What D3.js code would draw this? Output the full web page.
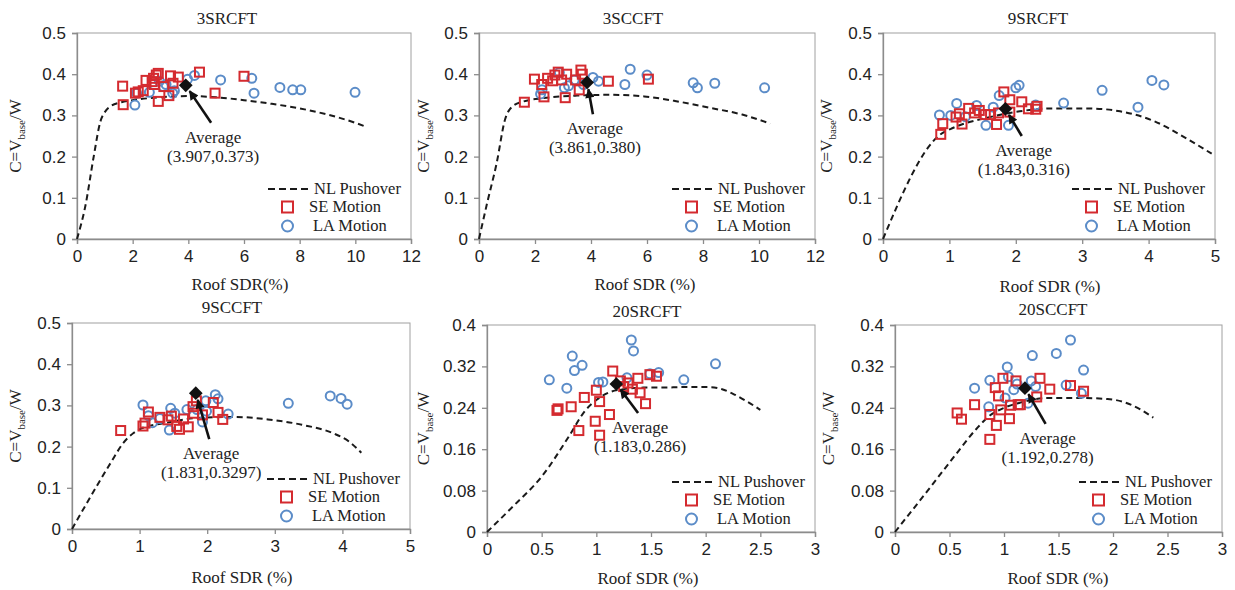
<!DOCTYPE html>
<html>
<head>
<meta charset="utf-8">
<script src="https://cdn.jsdelivr.net/npm/d3@7"></script>
<style>
  body { margin: 0; background: #fff; }
  svg text { font-family: "Liberation Serif", "Times New Roman", serif; fill: #222; }
  .tick text { font-family: "Liberation Sans", Arial, sans-serif; font-size: 17px; fill: #222; }
</style>
</head>
<body>
<svg id="fig" width="1235" height="590"></svg>
<script>
// ---- panel names and axis labels ----
const titles = ["3SRCFT", "3SCCFT", "9SRCFT", "9SCCFT", "20SRCFT", "20SCCFT"];
const xTitles = ["Roof SDR(%)", "Roof SDR (%)", "Roof SDR (%)", "Roof SDR (%)", "Roof SDR (%)", "Roof SDR (%)"];
const legendLabels = ["NL Pushover", "SE Motion", "LA Motion"];

// ---- tick values ----
const xTicks12 = [0, 2, 4, 6, 8, 10, 12];
const xTicks5 = [0, 1, 2, 3, 4, 5];
const xTicks3 = [0, 0.5, 1, 1.5, 2, 2.5, 3];
const yTicks05 = [0, 0.1, 0.2, 0.3, 0.4, 0.5];
const yTicks04 = [0, 0.08, 0.16, 0.24, 0.32, 0.4];

// ---- average response, as printed: [roof SDR %, C] ----
const averages = [["3.907", "0.373"], ["3.861", "0.380"], ["1.843", "0.316"], ["1.831", "0.3297"], ["1.183", "0.286"], ["1.192", "0.278"]];

// ---- nonlinear pushover curves [roof SDR %, C] ----
const push3SRCFT = [[0,0],[0.3,0.08],[0.6,0.2],[0.84,0.285],[1.0,0.308],[1.2,0.322],[1.6,0.332],[2,0.337],[3,0.344],[4,0.347],[5,0.344],[6,0.337],[7,0.328],[8,0.317],[9,0.302],[10,0.282],[10.4,0.272]];
const push3SCCFT = [[0,0],[0.3,0.09],[0.63,0.184],[0.93,0.29],[1.2,0.322],[1.6,0.334],[2.3,0.342],[3.5,0.348],[4.7,0.35],[5.9,0.346],[7,0.335],[8.2,0.319],[9.4,0.302],[10.4,0.28]];
const push9SRCFT = [[0,0],[0.85,0.252],[1.06,0.27],[1.56,0.294],[2.06,0.31],[2.56,0.317],[3.07,0.317],[3.57,0.31],[4.07,0.287],[4.57,0.244],[4.95,0.207]];
const push9SCCFT = [[0,0],[0.22,0.063],[0.57,0.16],[0.76,0.209],[0.91,0.233],[1.0,0.242],[1.4,0.258],[1.9,0.27],[2.4,0.272],[2.9,0.266],[3.4,0.253],[3.87,0.232],[4.1,0.212],[4.28,0.185]];
const push20SRCFT = [[0,0],[0.25,0.052],[0.5,0.107],[0.75,0.185],[0.9,0.235],[1.0,0.255],[1.12,0.27],[1.25,0.276],[1.43,0.279],[1.6,0.279],[1.8,0.28],[2.04,0.28],[2.15,0.276],[2.25,0.267],[2.38,0.252],[2.5,0.236]];
const push20SCCFT = [[0,0],[0.3,0.08],[0.54,0.145],[0.75,0.2],[0.87,0.225],[1.0,0.24],[1.15,0.25],[1.4,0.259],[1.7,0.259],[1.95,0.257],[2.1,0.251],[2.25,0.237],[2.37,0.221]];

// ---- SE ground motions [roof SDR %, C] ----
const se3SRCFT = [[1.64,0.371],[1.66,0.326],[2.10,0.354],[2.20,0.357],[2.38,0.360],[2.48,0.385],[2.70,0.382],[2.75,0.390],[2.85,0.398],[2.92,0.402],[2.78,0.375],[2.92,0.334],[3.12,0.370],[3.36,0.396],[3.30,0.348],[3.45,0.378],[3.64,0.393],[4.40,0.405],[4.96,0.354],[6.0,0.395]];
const se3SCCFT = [[1.62,0.332],[1.98,0.388],[2.24,0.375],[2.32,0.345],[2.45,0.390],[2.63,0.384],[2.71,0.398],[2.83,0.405],[2.95,0.386],[3.08,0.343],[3.13,0.400],[3.45,0.386],[3.58,0.362],[3.64,0.410],[3.69,0.400],[4.62,0.383],[6.05,0.388]];
const se9SRCFT = [[0.87,0.254],[0.90,0.280],[1.10,0.296],[1.15,0.304],[1.19,0.279],[1.29,0.317],[1.38,0.306],[1.45,0.312],[1.54,0.302],[1.62,0.302],[1.71,0.278],[1.74,0.306],[1.82,0.357],[1.91,0.338],[1.91,0.308],[2.09,0.333],[2.19,0.316],[2.30,0.315],[2.32,0.322]];
const se9SCCFT = [[0.72,0.239],[1.05,0.250],[1.08,0.257],[1.13,0.284],[1.30,0.271],[1.42,0.265],[1.47,0.274],[1.55,0.249],[1.59,0.242],[1.65,0.267],[1.72,0.248],[1.79,0.297],[1.84,0.311],[1.80,0.281],[1.93,0.277],[2.09,0.307],[2.16,0.283],[2.23,0.266]];
const se20SRCFT = [[0.64,0.235],[0.65,0.238],[0.77,0.242],[0.84,0.196],[0.89,0.260],[0.99,0.214],[1.00,0.274],[1.03,0.252],[1.03,0.187],[1.12,0.227],[1.15,0.311],[1.22,0.292],[1.25,0.281],[1.29,0.288],[1.33,0.276],[1.38,0.297],[1.40,0.269],[1.45,0.248],[1.49,0.304],[1.55,0.301]];
const se20SCCFT = [[0.57,0.230],[0.61,0.218],[0.73,0.246],[0.87,0.179],[0.87,0.227],[0.92,0.279],[0.93,0.206],[0.95,0.263],[0.97,0.236],[0.99,0.297],[1.05,0.219],[1.06,0.245],[1.11,0.292],[1.13,0.246],[1.15,0.246],[1.30,0.261],[1.33,0.297],[1.42,0.276],[1.61,0.283],[1.73,0.272]];

// ---- LA ground motions [roof SDR %, C] ----
const la3SRCFT = [[2.08,0.325],[2.14,0.354],[2.60,0.356],[2.96,0.383],[3.10,0.370],[3.20,0.375],[3.44,0.354],[3.50,0.360],[3.97,0.388],[4.22,0.397],[5.16,0.386],[6.28,0.390],[6.36,0.354],[7.29,0.368],[7.75,0.362],[8.04,0.362],[9.99,0.356]];
const la3SCCFT = [[2.20,0.352],[2.25,0.362],[2.87,0.404],[3.05,0.367],[3.20,0.372],[3.40,0.386],[3.73,0.375],[4.07,0.392],[4.27,0.383],[5.21,0.375],[5.40,0.412],[6.00,0.398],[7.65,0.379],[7.80,0.367],[8.42,0.378],[10.2,0.367]];
const la9SRCFT = [[0.85,0.301],[1.02,0.300],[1.11,0.329],[1.24,0.297],[1.41,0.324],[1.55,0.276],[1.66,0.320],[1.75,0.348],[1.89,0.276],[2.00,0.367],[2.05,0.373],[2.30,0.325],[2.72,0.330],[3.30,0.361],[3.84,0.320],[4.05,0.385],[4.23,0.374]];
const la9SCCFT = [[1.05,0.301],[1.13,0.275],[1.19,0.258],[1.30,0.268],[1.44,0.240],[1.46,0.293],[1.52,0.281],[1.70,0.290],[1.85,0.290],[1.93,0.260],[1.98,0.311],[1.99,0.286],[2.12,0.326],[2.16,0.316],[2.31,0.279],[3.20,0.305],[3.82,0.323],[3.98,0.317],[4.07,0.303]];
const la20SRCFT = [[0.57,0.294],[0.73,0.278],[0.78,0.340],[0.80,0.312],[0.87,0.322],[1.02,0.289],[1.06,0.290],[1.28,0.298],[1.32,0.371],[1.34,0.350],[1.49,0.306],[1.57,0.308],[1.80,0.294],[2.09,0.325]];
const la20SCCFT = [[0.73,0.278],[0.86,0.242],[0.87,0.293],[1.01,0.259],[1.03,0.319],[1.04,0.300],[1.09,0.275],[1.12,0.286],[1.22,0.249],[1.25,0.292],[1.26,0.341],[1.29,0.281],[1.48,0.345],[1.57,0.284],[1.61,0.371],[1.73,0.313],[1.71,0.268]];

// ---- panel layout: plot box [left, right, top, bottom] and label placement ----
const layout = [
  { box: [77, 411, 33, 239],   title: [227, 24],   xTitle: [240, 290],  yTitleX: 15,  note: [4.89, 0.248] },
  { box: [479, 815, 33, 239],  title: [633, 24],   xTitle: [645, 290],  yTitleX: 423, note: [4.14, 0.269] },
  { box: [883, 1215, 33, 239], title: [1038, 24],  xTitle: [1050, 292], yTitleX: 826, note: [2.12, 0.216] },
  { box: [72, 410, 323, 529],  title: [232, 313],  xTitle: [242, 583],  yTitleX: 15,  note: [2.06, 0.184] },
  { box: [487, 815, 325, 532], title: [647, 317],  xTitle: [648, 584],  yTitleX: 423, note: [1.40, 0.203] },
  { box: [895, 1222, 325, 532], title: [1053, 315], xTitle: [1058, 584], yTitleX: 828, note: [1.40, 0.182] }
];

const panels = [
  { push: push3SRCFT,  se: se3SRCFT,  la: la3SRCFT,  xTicks: xTicks12, yTicks: yTicks05 },
  { push: push3SCCFT,  se: se3SCCFT,  la: la3SCCFT,  xTicks: xTicks12, yTicks: yTicks05 },
  { push: push9SRCFT,  se: se9SRCFT,  la: la9SRCFT,  xTicks: xTicks5,  yTicks: yTicks05 },
  { push: push9SCCFT,  se: se9SCCFT,  la: la9SCCFT,  xTicks: xTicks5,  yTicks: yTicks05 },
  { push: push20SRCFT, se: se20SRCFT, la: la20SRCFT, xTicks: xTicks3,  yTicks: yTicks04 },
  { push: push20SCCFT, se: se20SCCFT, la: la20SCCFT, xTicks: xTicks3,  yTicks: yTicks04 }
];

const RED = "#d42a2f", BLUE = "#5b8cc8", AXIS = "#8c8c8c";
const svg = d3.select("#fig");
const fmt = d3.format("~g");

svg.append("defs").append("marker")
  .attr("id", "arrowHead").attr("viewBox", "0 0 10 10")
  .attr("refX", 9).attr("refY", 5)
  .attr("markerWidth", 4.2).attr("markerHeight", 3.6)
  .attr("markerUnits", "strokeWidth").attr("orient", "auto")
  .append("path").attr("d", "M0,0 L10,5 L0,10 Z").attr("fill", "#111");

panels.forEach((p, i) => {
  const L = layout[i];
  const [x0, x1, y0t, y0b] = L.box;
  const xMax = p.xTicks[p.xTicks.length - 1];
  const yMax = p.yTicks[p.yTicks.length - 1];
  const x = d3.scaleLinear().domain([0, xMax]).range([x0, x1]);
  const y = d3.scaleLinear().domain([0, yMax]).range([y0b, y0t]);
  const g = svg.append("g");

  // frame around the plotting area
  g.append("rect").attr("x", x0).attr("y", y0t).attr("width", x1 - x0).attr("height", y0b - y0t)
    .attr("fill", "none").attr("stroke", "#a0a0a0").attr("stroke-width", 1);

  // axes
  const ax = g.append("g").attr("transform", `translate(0,${y0b})`)
    .call(d3.axisBottom(x).tickValues(p.xTicks).tickFormat(fmt).tickSize(5).tickPadding(6));
  const ay = g.append("g").attr("transform", `translate(${x0},0)`)
    .call(d3.axisLeft(y).tickValues(p.yTicks).tickFormat(fmt).tickSize(5).tickPadding(6));
  [ax, ay].forEach(a => {
    a.select(".domain").attr("stroke", AXIS).attr("stroke-width", 1.3);
    a.selectAll(".tick line").attr("stroke", AXIS).attr("stroke-width", 1.3);
  });

  // titles
  g.append("text").attr("x", L.title[0]).attr("y", L.title[1])
    .attr("text-anchor", "middle").attr("font-size", 17).text(titles[i]);
  g.append("text").attr("x", L.xTitle[0]).attr("y", L.xTitle[1])
    .attr("text-anchor", "middle").attr("font-size", 17).text(xTitles[i]);
  const yt = g.append("text")
    .attr("transform", `translate(${L.yTitleX + 6},${(y0t + y0b) / 2}) rotate(-90)`)
    .attr("text-anchor", "middle").attr("font-size", 17);
  yt.append("tspan").text("C=V");
  yt.append("tspan").attr("font-size", 11).attr("dy", 4).text("base");
  yt.append("tspan").attr("dy", -4).text("/W");

  // pushover curve
  g.append("path").datum(p.push)
    .attr("fill", "none").attr("stroke", "#1a1a1a").attr("stroke-width", 2)
    .attr("stroke-dasharray", "6,4")
    .attr("d", d3.line().x(d => x(d[0])).y(d => y(d[1])).curve(d3.curveMonotoneX));

  // LA motions (circles)
  g.append("g").selectAll("circle").data(p.la).join("circle")
    .attr("cx", d => x(d[0])).attr("cy", d => y(d[1])).attr("r", 4.5)
    .attr("fill", "none").attr("stroke", BLUE).attr("stroke-width", 2);

  // SE motions (squares)
  g.append("g").selectAll("rect").data(p.se).join("rect")
    .attr("x", d => x(d[0]) - 4.5).attr("y", d => y(d[1]) - 4.5)
    .attr("width", 9).attr("height", 9)
    .attr("fill", "none").attr("stroke", RED).attr("stroke-width", 2);

  // average marker with annotation
  const [sx, sy] = averages[i];
  const cx = x(+sx), cy = y(+sy);
  g.append("path").attr("d", d3.symbol(d3.symbolDiamond2, 120)())
    .attr("transform", `translate(${cx},${cy})`).attr("fill", "#111");
  const tx = x(L.note[0]), ty = y(L.note[1]);
  const tailX = tx - 2, tailY = ty - 14;
  const dx = tailX - cx, dy = tailY - cy, len = Math.hypot(dx, dy);
  g.append("line")
    .attr("x1", tailX).attr("y1", tailY)
    .attr("x2", cx + dx / len * 7).attr("y2", cy + dy / len * 7)
    .attr("stroke", "#111").attr("stroke-width", 2.6).attr("marker-end", "url(#arrowHead)");
  g.append("text").attr("x", tx).attr("y", ty + 6).attr("text-anchor", "middle")
    .attr("font-size", 17).text("Average");
  g.append("text").attr("x", tx).attr("y", ty + 25).attr("text-anchor", "middle")
    .attr("font-size", 17).text(`(${sx},${sy})`);

  // legend
  const lg = g.append("g");
  const r0 = y0b - 50, r1 = y0b - 32, r2 = y0b - 13;
  lg.append("line").attr("x1", x1 - 143).attr("x2", x1 - 101).attr("y1", r0).attr("y2", r0)
    .attr("stroke", "#1a1a1a").attr("stroke-width", 2).attr("stroke-dasharray", "7,4");
  lg.append("rect").attr("x", x1 - 129).attr("y", r1 - 5.5).attr("width", 11).attr("height", 11)
    .attr("fill", "none").attr("stroke", RED).attr("stroke-width", 2);
  lg.append("circle").attr("cx", x1 - 123.5).attr("cy", r2).attr("r", 5.5)
    .attr("fill", "none").attr("stroke", BLUE).attr("stroke-width", 2);
  lg.append("text").attr("x", x1 - 97).attr("y", r0 + 5).attr("font-size", 16.5).text(legendLabels[0]);
  lg.append("text").attr("x", x1 - 102).attr("y", r1 + 5).attr("font-size", 16.5).text(legendLabels[1]);
  lg.append("text").attr("x", x1 - 98).attr("y", r2 + 5).attr("font-size", 16.5).text(legendLabels[2]);
});
</script>
</body>
</html>
